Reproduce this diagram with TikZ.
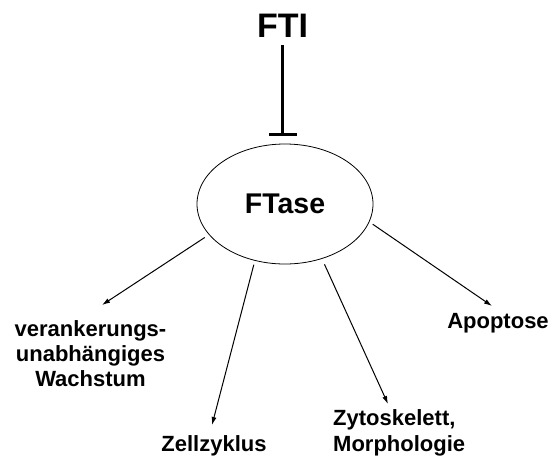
\documentclass[tikz,border=0pt]{standalone}
\usepackage{fontspec}
\setmainfont{Liberation Sans}
\usetikzlibrary{shapes.geometric,arrows.meta}
\begin{document}
\begin{tikzpicture}[x=1pt,y=-1pt,
  lbl/.style={font=\fontsize{22}{25}\selectfont\bfseries, inner sep=0pt},
  arr/.style={-{Latex[length=8pt,width=5pt]}, line width=1pt},
  inhib/.style={line width=3pt, -{Bar[width=28pt]}}]
\useasboundingbox (0,0) rectangle (551,456);
\node[font=\fontsize{34}{40}\selectfont\bfseries, inner sep=0pt, anchor=base] (fti) at (282.5,37) {FTI};
\node[ellipse, draw, line width=0.8pt, minimum width=176pt, minimum height=120pt, inner sep=0pt,
      font=\fontsize{28.5}{34}\selectfont\bfseries] (ftase) at (285,204) {FTase};
\node[lbl, align=center, anchor=north] (wach) at (90.5,320) {verankerungs-\\unabhängiges\\Wachstum};
\node[lbl, anchor=base] (apo) at (498,328) {Apoptose};
\node[lbl, anchor=base] (zell) at (214,451) {Zellzyklus};
\node[lbl, align=left, anchor=north west, font=\fontsize{22}{26}\selectfont\bfseries] (zyto) at (333,409) {Zytoskelett,\\Morphologie};
\coordinate (tA) at (102,305);
\coordinate (tZ) at (212,425);
\coordinate (tM) at (388,404);
\coordinate (tP) at (492,306);
\draw[inhib, shorten <=8pt, shorten >=8pt] (fti.south) -- (fti.south |- ftase.north);
\draw[arr, shorten <=5pt] (ftase.202) -- (tA);
\draw[arr, shorten <=4pt] (ftase.242) -- (tZ);
\draw[arr, shorten <=6pt] (ftase.304) -- (tM);
\draw[arr, shorten <=4pt] (ftase.348) -- (tP);
\end{tikzpicture}
\end{document}
